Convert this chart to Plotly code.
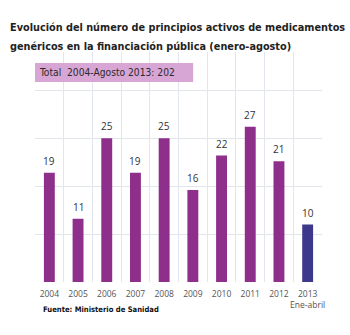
import plotly.graph_objects as go

years = ["2004", "2005", "2006", "2007", "2008", "2009", "2010", "2011", "2012", "2013"]
tick_labels = ["2004", "2005", "2006", "2007", "2008", "2009", "2010", "2011", "2012", "2013<br>Ene-abril"]
values = [19, 11, 25, 19, 25, 16, 22, 27, 21, 10]
bar_colors = ["#8e2f8b"] * 9 + ["#3d388b"]
title_lines = ["Evolución del número de principios activos de medicamentos",
               "genéricos en la financiación pública (enero-agosto)"]
total_text = "Total  2004-Agosto 2013: 202"
source_text = "Fuente: Ministerio de Sanidad"

n = len(years)
xs = list(range(n))
grid_step = 25 / 3
y_grid = [i * grid_step for i in range(5)]
x_bounds = [i - 0.5 for i in range(n + 1)]

COND = "DejaVu Sans Condensed, Liberation Sans Narrow, sans-serif"

fig = go.Figure()
fig.add_trace(go.Bar(x=xs, y=values, marker=dict(color=bar_colors, line=dict(width=0)),
                     width=0.38, hoverinfo="skip"))

for x, v in zip(xs, values):
    fig.add_annotation(x=x, y=v, text=str(v), showarrow=False, yanchor="bottom", yshift=3,
                       font=dict(family="Open Sans, sans-serif", size=10, color="#333333"))

fig.add_shape(type="rect", xref="paper", yref="paper", x0=0, x1=0.551, y0=0.87, y1=0.952,
              fillcolor="#d7a6d5", line=dict(width=0), layer="above")
fig.add_annotation(xref="paper", yref="paper", x=0.008, y=0.911, xanchor="left", yanchor="middle",
                   text=total_text, showarrow=False,
                   font=dict(family=COND, size=10.2, color="#2b2b2b"))

for line, yp in zip(title_lines, [1.105, 1.025]):
    fig.add_annotation(xref="paper", yref="paper", x=-0.094, y=yp, xanchor="left", yanchor="middle",
                       text="<b>" + line + "</b>", showarrow=False, align="left",
                       font=dict(family=COND, size=10.8, color="#222222"))
fig.add_annotation(xref="paper", yref="paper", x=0.02, y=-0.118, xanchor="left", yanchor="middle",
                   text="<b>" + source_text + "</b>", showarrow=False,
                   font=dict(family=COND, size=7.6, color="#111111"))

fig.update_layout(
    width=350, height=335, margin=dict(l=35, r=28, t=52, b=53),
    paper_bgcolor="white", plot_bgcolor="white", showlegend=False,
    xaxis=dict(range=[-0.5, n - 0.5], tickvals=xs, ticktext=tick_labels, showgrid=False,
               zeroline=False, showline=False, ticks="", tickangle=0, ticklabelstandoff=5,
               tickfont=dict(family="Open Sans, sans-serif", size=8.5, color="#555555"),
               minor=dict(tickvals=x_bounds, showgrid=True, gridcolor="#e1e6ec", gridwidth=1, ticks="")),
    yaxis=dict(range=[0, 40], tickvals=y_grid, showticklabels=False, showgrid=True,
               gridcolor="#e1e6ec", gridwidth=1, zeroline=False, showline=False, ticks=""),
)

fig.write_html("out.html")
